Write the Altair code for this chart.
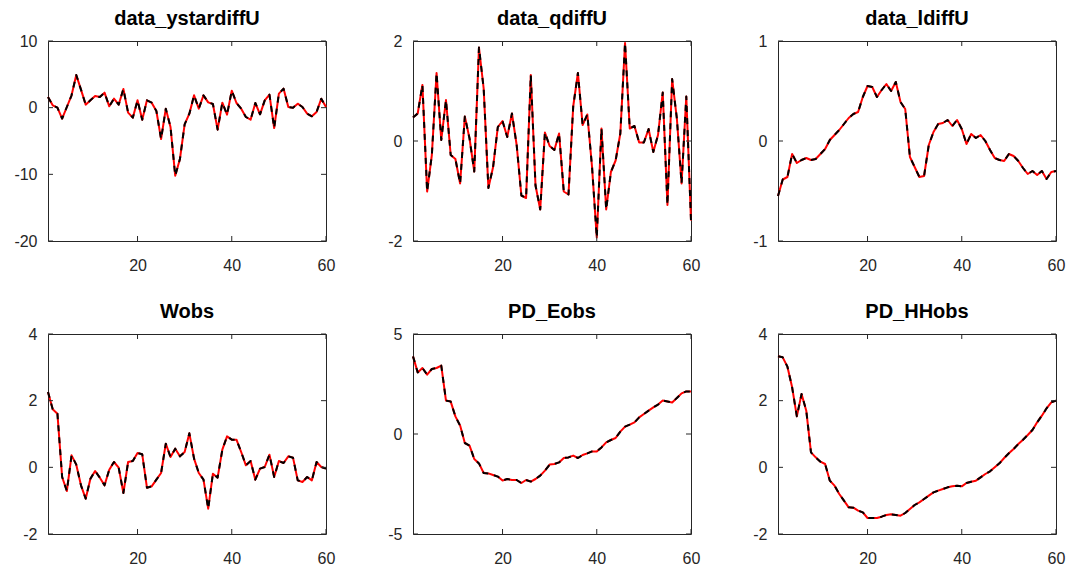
import altair as alt
import pandas as pd

t = list(range(1, 61))

ystardiff = [1.6, 0.35, 0.0, -1.65, 0.1, 1.85, 4.9, 2.7, 0.45, 1.1,
             1.75, 1.6, 2.25, 0.2, 1.35, 0.45, 2.8, -0.75, -1.5, 1.1,
             -1.8, 1.1, 0.75, -0.5, -4.7, -0.15, -2.9, -10.2, -7.7, -2.5,
             -0.9, 1.85, -0.15, 1.85, 0.8, 0.55, -3.3, 0.75, -1.05, 2.55,
             0.7, -0.15, -1.4, -1.8, 0.7, -1.0, 1.1, 1.95, -3.05, 2.1,
             2.85, 0.1, 0.0, 0.6, 0.1, -0.9, -1.3, -0.65, 1.35, 0.1]

qdiff = [0.47, 0.55, 1.12, -1.01, -0.28, 1.36, 0.02, 0.82, -0.28, -0.36,
         -0.85, 0.49, 0.05, -0.61, 1.87, 1.05, -0.94, -0.52, 0.28, 0.40,
         0.08, 0.55, -0.08, -1.09, -1.14, 1.32, -0.89, -1.37, 0.17, -0.10,
         -0.18, 0.15, -1.01, -1.07, 0.69, 1.36, 0.32, 0.53, -0.52, -1.93,
         0.25, -1.37, -0.62, -0.39, 0.15, 1.96, 0.25, 0.30, -0.03, -0.03,
         0.24, -0.22, 0.12, 0.97, -1.28, 1.24, 0.45, -0.85, 0.89, -1.59]

ldiff = [-0.55, -0.385, -0.36, -0.13, -0.22, -0.19, -0.17, -0.19, -0.18, -0.13,
         -0.08, 0.01, 0.06, 0.11, 0.17, 0.23, 0.27, 0.29, 0.44, 0.55,
         0.54, 0.44, 0.51, 0.57, 0.50, 0.59, 0.39, 0.32, -0.16, -0.26,
         -0.36, -0.35, -0.04, 0.09, 0.17, 0.18, 0.21, 0.15, 0.21, 0.12,
         -0.03, 0.07, 0.03, 0.06, 0.00, -0.09, -0.17, -0.19, -0.20, -0.13,
         -0.15, -0.20, -0.27, -0.33, -0.30, -0.34, -0.30, -0.38, -0.31, -0.30]

wobs = [2.26, 1.74, 1.61, -0.29, -0.71, 0.36, 0.08, -0.54, -0.94, -0.34,
        -0.11, -0.31, -0.54, -0.07, 0.16, -0.01, -0.77, 0.16, 0.19, 0.43,
        0.39, -0.61, -0.57, -0.37, -0.17, 0.71, 0.31, 0.56, 0.33, 0.46,
        1.02, 0.26, -0.17, -0.37, -1.24, -0.19, -0.31, 0.53, 0.93, 0.83,
        0.83, 0.46, 0.06, 0.19, -0.37, -0.04, 0.01, 0.38, -0.29, 0.19,
        0.13, 0.33, 0.29, -0.39, -0.44, -0.29, -0.39, 0.16, 0.01, -0.04]

pd_eobs = [3.88, 3.08, 3.3, 2.97, 3.25, 3.3, 3.42, 1.67, 1.62, 0.88,
           0.42, -0.45, -0.58, -1.25, -1.47, -1.95, -1.97, -2.05, -2.13, -2.33,
           -2.25, -2.3, -2.3, -2.45, -2.3, -2.38, -2.25, -2.08, -1.83, -1.53,
           -1.5, -1.42, -1.2, -1.17, -1.08, -1.2, -1.05, -0.97, -0.87, -0.87,
           -0.67, -0.42, -0.3, -0.2, 0.12, 0.37, 0.47, 0.58, 0.83, 1.0,
           1.17, 1.33, 1.47, 1.67, 1.63, 1.58, 1.8, 2.03, 2.13, 2.12]

pd_hhobs = [3.33, 3.3, 3.02, 2.4, 1.53, 2.2, 1.7, 0.45, 0.3, 0.17,
            0.1, -0.4, -0.55, -0.8, -1.0, -1.2, -1.21, -1.3, -1.35, -1.52,
            -1.52, -1.52, -1.48, -1.43, -1.41, -1.43, -1.45, -1.37, -1.25, -1.13,
            -1.05, -0.95, -0.85, -0.75, -0.7, -0.65, -0.6, -0.57, -0.55, -0.57,
            -0.47, -0.43, -0.4, -0.3, -0.2, -0.12, 0.0, 0.12, 0.28, 0.42,
            0.55, 0.7, 0.83, 0.97, 1.12, 1.35, 1.55, 1.77, 1.95, 2.0]

titles = ["data_ystardiffU", "data_qdiffU", "data_ldiffU", "Wobs", "PD_Eobs", "PD_HHobs"]
series = [ystardiff, qdiff, ldiff, wobs, pd_eobs, pd_hhobs]
y_domains = [[-20, 10], [-2, 2], [-1, 1], [-2, 4], [-5, 5], [-2, 4]]
y_ticks = [[-20, -10, 0, 10], [-2, 0, 2], [-1, 0, 1], [-2, 0, 2, 4], [-5, 0, 5], [-2, 0, 2, 4]]
x_ticks = [20, 40, 60]

W, H = 278, 200
TICK = 5
AX = "#262626"
FONT = "Liberation Sans"
LBL = "'' + datum.value"


def panel(title, vals, dom, yt):
    df = pd.DataFrame({"t": t, "v": vals})
    xs = alt.Scale(domain=[1, 60], nice=False, zero=False)
    ys = alt.Scale(domain=dom, nice=False, zero=False)
    x = alt.X("t:Q", scale=xs, axis=alt.Axis(values=x_ticks, title=None, ticks=False, tickSize=0,
                                             labelPadding=16, labelFlush=False, labelExpr=LBL,
                                             labelOverlap=False, grid=False, domain=False))
    y = alt.Y("v:Q", scale=ys, axis=alt.Axis(values=yt, title=None, ticks=False, tickSize=0,
                                             labelPadding=11, labelFlush=False, labelExpr=LBL,
                                             labelOverlap=False, grid=False, domain=False))
    red = alt.Chart(df).mark_line(color="#ff0000", strokeWidth=2,
                                  strokeJoin="round").encode(x=x, y=y)
    blk = alt.Chart(df).mark_line(color="#000000", strokeWidth=2, strokeJoin="round",
                                  strokeDash=[6, 6]).encode(x=x, y=y)
    xt = pd.DataFrame({"t": x_ticks})
    yt_df = pd.DataFrame({"v": yt})
    xb = alt.Chart(xt).mark_rule(color=AX, strokeWidth=1).encode(
        x=x, y=alt.value(H), y2=alt.value(H - TICK))
    xtp = alt.Chart(xt).mark_rule(color=AX, strokeWidth=1).encode(
        x=x, y=alt.value(0), y2=alt.value(TICK))
    yl = alt.Chart(yt_df).mark_rule(color=AX, strokeWidth=1).encode(
        y=y, x=alt.value(0), x2=alt.value(TICK))
    yr = alt.Chart(yt_df).mark_rule(color=AX, strokeWidth=1).encode(
        y=y, x=alt.value(W), x2=alt.value(W - TICK))
    return alt.layer(red, blk, xb, xtp, yl, yr).properties(
        width=W, height=H,
        title=alt.TitleParams(title, fontSize=20, fontWeight="bold", font=FONT,
                              color="#000000", offset=4))


charts = [panel(tt, s, d, yt) for tt, s, d, yt in zip(titles, series, y_domains, y_ticks)]

chart = alt.concat(*charts, columns=3, spacing={"row": 93, "column": 87}).properties(
    bounds="flush",
    padding={"left": 13, "top": 8, "right": 5, "bottom": 5},
    background="white",
).configure_view(
    stroke=AX, strokeWidth=1
).configure_axis(
    labelFont=FONT, labelFontSize=16, labelColor=AX
)

chart.save("out.html", embed_options={"renderer": "svg", "actions": False})
